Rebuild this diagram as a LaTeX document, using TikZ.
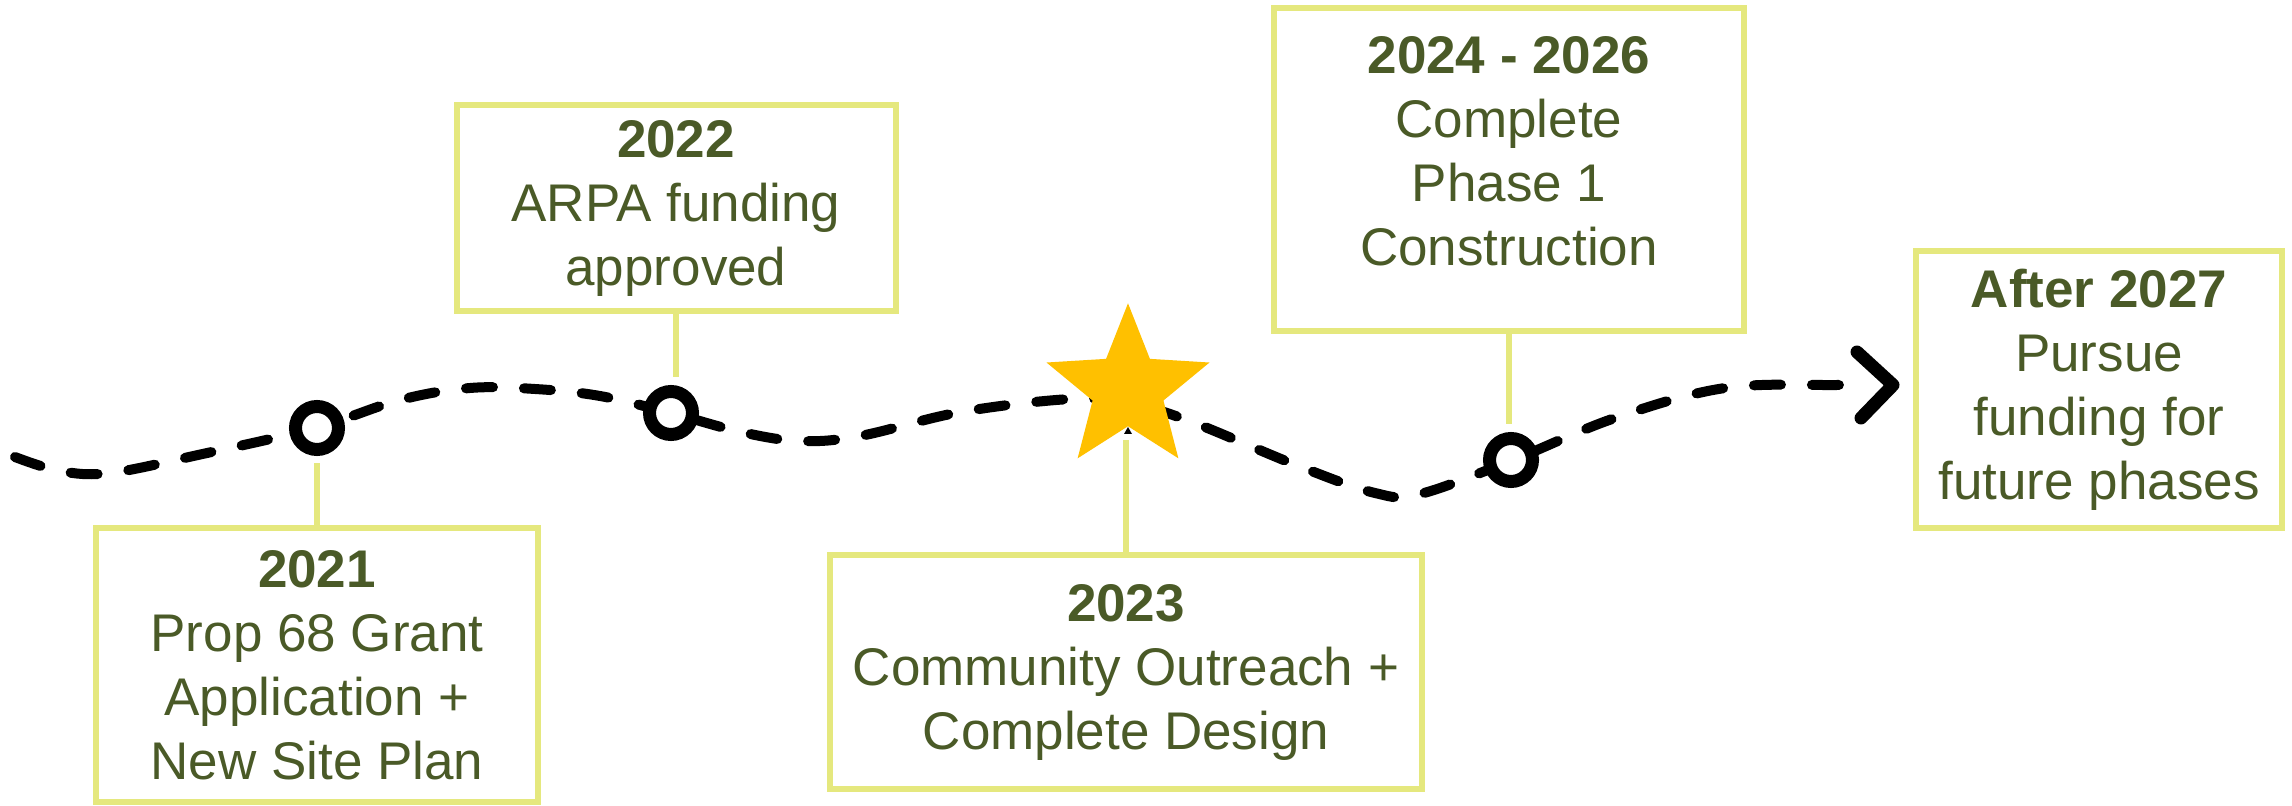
\documentclass[tikz,border=0pt]{standalone}
\usepackage{fontspec}
\setmainfont{Liberation Sans}
\usetikzlibrary{shapes.geometric, calc}
\definecolor{boxline}{RGB}{229,232,126}
\definecolor{olivetext}{RGB}{74,90,39}
\definecolor{starfill}{RGB}{255,192,0}

\begin{document}
\begin{tikzpicture}[x=0.5pt, y=-0.5pt,
    milestone/.style={draw=boxline, line width=3pt, fill=white, text=olivetext, align=center, inner sep=0pt, font=\fontsize{26.5pt}{32pt}\selectfont},
    ring/.style={circle, draw=black, line width=6.5pt, fill=white, minimum size=21.5pt, inner sep=0pt, outer sep=0pt},
    link/.style={draw=boxline, line width=2.8pt, shorten >=7pt}]
    \useasboundingbox (0,0) rectangle (2292,806);

    % the path
    \draw[line width=5pt, line cap=round, dash pattern=on 13.5pt off 15.5pt]
        plot[smooth, tension=0.6] coordinates {(15,457) (60,471) (110,473) (198,455) (315,428) (400,400) (470,388) (535,389) (600,396) (671,413) (741,432) (800,441) (860,436) (961,412) (1071,399) (1130,403) (1192,422) (1296,465) (1375,493) (1420,494) (1513,460) (1615,418) (1725,388) (1837,385) (1862,385)};
    \coordinate (tip) at (1893,385);
    \draw[line width=6.5pt, line cap=round, line join=round] ($(tip)+(-36,-33)$) -- (tip) -- ($(tip)+(-32,33)$);

    % markers
    \node[star, star points=5, star point ratio=2.3, fill=starfill, minimum size=85.7pt, inner sep=0pt, outer sep=0pt] (m3) at (1128,389) {};
    \fill (1124,434) -- (1132,434) -- (1128,427) -- cycle;
    \node[ring] (m1) at (317,428) {};
    \node[ring] (m2) at (671,413) {};
    \node[ring] (m4) at (1511,460) {};

    % boxes
    \node[milestone, minimum width=221pt, minimum height=137pt] (b1) at (317,665) {\textbf{2021}\\Prop 68 Grant\\Application +\\New Site Plan};
    \node[milestone, minimum width=219.5pt, minimum height=103pt] (b2) at (676,208) {\textbf{2022}\\ARPA funding\\approved};
    \node[milestone, minimum width=296pt, minimum height=117pt] (b3) at (1126,672) {\textbf{2023}\\Community Outreach +\\Complete Design};
    \node[milestone, minimum width=235pt, minimum height=161.5pt] (b4) at (1509,170) {\textbf{2024 - 2026}\\Complete\\Phase 1\\Construction\\[-13pt]\mbox{}};
    \node[milestone, minimum width=183pt, minimum height=138.5pt] (b5) at (2099,390) {\textbf{After 2027}\\Pursue\\funding for\\future phases};

    \draw[link] (b1.north) -- (b1.north |- m1.south);
    \draw[link] (b2.south) -- (b2.south |- m2.north);
    \draw[link] (b3.north) -- (b3.north |- m3.south);
    \draw[link] (b4.south) -- (b4.south |- m4.north);
\end{tikzpicture}
\end{document}
